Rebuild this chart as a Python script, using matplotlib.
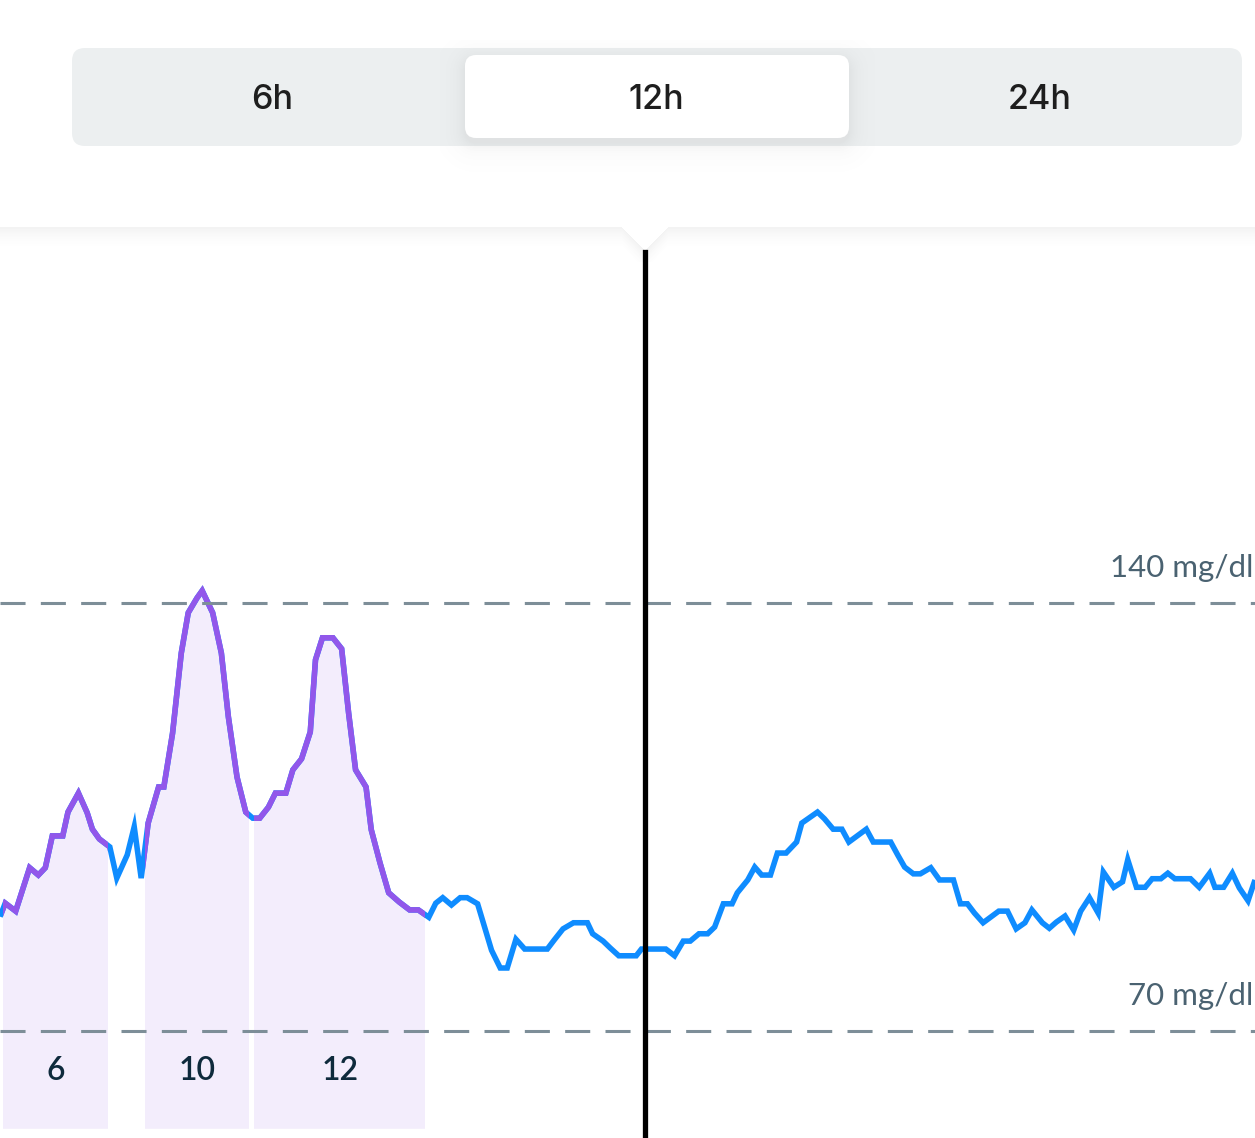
import matplotlib
matplotlib.use("Agg")
import matplotlib.pyplot as plt
from matplotlib.patches import FancyBboxPatch, Rectangle
import matplotlib.transforms as mtransforms
import numpy as np

# ---------------- data ----------------
minutes = [0, 3, 9, 17, 22, 26, 30, 36, 39, 45,
           50, 53, 57, 63, 67, 73, 77, 81, 85, 91,
           94, 99, 104, 108, 113, 116, 122, 127, 131, 136,
           141, 145, 149, 154, 158, 164, 168, 173, 178, 181,
           185, 191, 196, 200, 204, 210, 213, 218, 223, 229,
           235, 240, 246, 250, 254, 259, 264, 268, 274, 278,
           282, 287, 291, 296, 301, 314, 318, 323, 329, 337,
           340, 346, 350, 355, 365, 368, 382, 387, 392, 396,
           401, 406, 410, 415, 420, 423, 429, 433, 437, 442,
           446, 451, 457, 460, 464, 469, 473, 478, 483, 487,
           497, 501, 511, 515, 519, 524, 528, 534, 539, 547,
           551, 555, 559, 564, 573, 578, 583, 588, 592, 598,
           602, 606, 611, 616, 620, 625, 630, 633, 639, 644,
           647, 652, 657, 661, 666, 670, 674, 683, 688, 694,
           697, 702, 707, 711, 716, 720]

glucose = [88.7, 90.9, 89.6, 96.7, 95.5, 96.7, 101.9, 101.9, 105.8, 108.9,
           105.7, 103.0, 101.4, 100.1, 95.0, 98.8, 103.4, 95.0, 104.0, 109.9,
           109.9, 118.7, 131.8, 138.4, 140.8, 142.0, 138.4, 131.8, 121.4, 111.5,
           105.8, 104.8, 104.8, 106.6, 108.9, 108.9, 112.7, 114.5, 118.9, 130.7,
           134.3, 134.3, 132.5, 122.0, 112.7, 109.9, 102.9, 97.5, 92.6, 91.1,
           89.8, 89.8, 88.6, 90.9, 91.8, 90.6, 91.8, 91.8, 90.8, 87.0,
           83.2, 80.3, 80.3, 85.0, 83.4, 83.4, 84.9, 86.7, 87.7, 87.7,
           85.9, 84.7, 83.6, 82.3, 82.3, 83.4, 83.4, 82.3, 84.7, 84.7,
           85.9, 85.9, 87.0, 90.8, 90.8, 92.6, 94.7, 96.8, 95.5, 95.5,
           99.1, 99.1, 100.9, 104.0, 104.8, 105.8, 104.7, 103.0, 103.0, 100.9,
           103.0, 100.9, 100.9, 98.8, 96.8, 95.7, 95.7, 96.7, 94.7, 94.7,
           90.8, 90.8, 89.3, 87.7, 89.6, 89.6, 86.7, 87.7, 89.8, 87.7,
           86.8, 87.8, 88.8, 86.5, 89.6, 91.8, 89.3, 96.0, 93.5, 94.4,
           98.0, 93.5, 93.5, 94.9, 94.9, 95.8, 94.9, 94.9, 93.5, 95.8,
           93.5, 93.5, 95.8, 93.4, 91.3, 94.7]

meal_start = [2, 83, 146]
meal_end = [62, 143, 244]
meal_labels = ["6", "10", "12"]

range_values = [140, 70]
range_labels = ["140 mg/dl", "70 mg/dl"]

cursor_minute = 370

period_labels = ["6h", "12h", "24h"]
selected_period = "12h"

# ---------------- styles ----------------
W, H = 1255, 1138
BLUE = "#0F8CFF"
PURPLE = "#9257EA"
FILL = "#F3EDFC"
DASH = "#7D8E98"
RANGE_TXT = "#4A6271"
MEAL_TXT = "#0E2A3C"
FLOOR = 54.0
LW = 4.0

fig = plt.figure(figsize=(W / 100, H / 100), dpi=100)
fig.patch.set_facecolor("white")

# UI layer (pixel coordinates)
ui = fig.add_axes([0, 0, 1, 1], zorder=0)
ui.set_xlim(0, W)
ui.set_ylim(H, 0)
ui.axis("off")

# chart layer
ax = fig.add_axes([0, 0, 1, 1], zorder=1)
ax.patch.set_alpha(0)
ax.set_xlim(0, 720)
ax.set_ylim(52.5, 238.6)
ax.axis("off")


def sd_roundrect(X, Y, x0, y0, x1, y1, r):
    cx, cy = (x0 + x1) / 2, (y0 + y1) / 2
    hw, hh = (x1 - x0) / 2, (y1 - y0) / 2
    qx = np.abs(X - cx) - (hw - r)
    qy = np.abs(Y - cy) - (hh - r)
    outside = np.hypot(np.maximum(qx, 0), np.maximum(qy, 0))
    inside = np.minimum(np.maximum(qx, qy), 0)
    return outside + inside - r


# ---- segmented control ----
ui.add_patch(FancyBboxPatch((72, 48), 1170, 98,
                            boxstyle="round,pad=0,rounding_size=13",
                            fc="#ECEFF0", ec="none", zorder=1))

# shadow of selected pill
sx0, sy0, sx1, sy1 = 440, 40, 875, 190
gx, gy = np.meshgrid(np.arange(sx0, sx1) + 0.5, np.arange(sy0, sy1) + 0.5)
d = sd_roundrect(gx, gy, 465, 60, 849, 143, 11)
alpha = 0.10 * np.exp(-np.maximum(d, 0) / 9.0)
alpha[d < 0] = 0.10
img = np.zeros(gx.shape + (4,))
img[..., 0:3] = 0.45
img[..., 3] = alpha
ui.imshow(img, extent=(sx0, sx1, sy1, sy0), zorder=2, interpolation="bilinear")

ui.add_patch(FancyBboxPatch((465, 55), 384, 83,
                            boxstyle="round,pad=0,rounding_size=11",
                            fc="white", ec="none", zorder=3))

for i, lab in enumerate(period_labels):
    cx = 272 + i * 384
    ui.text(cx, 100, lab, ha="center", va="center", fontsize=24.5,
            family="Inter", fontweight="medium", color="#1E1E1E", zorder=4)

# ---- header shadow with pointer notch ----
hy0, hy1 = 222, 262
gx, gy = np.meshgrid(np.arange(0, W) + 0.5, np.arange(hy0, hy1) + 0.5)
notch_c, notch_hw, notch_h, edge = 645, 23, 24, 227
yb = np.where(np.abs(gx - notch_c) < notch_hw,
              edge + (notch_hw - np.abs(gx - notch_c)) * notch_h / notch_hw,
              edge)
dd = gy - yb
a = np.where(dd >= 0, 0.075 * np.clip(1 - dd / 22.0, 0, 1) ** 1.6, 0)
img = np.zeros(gx.shape + (4,))
img[..., 0:3] = 0.35
img[..., 3] = a
ui.imshow(img, extent=(0, W, hy1, hy0), zorder=2, interpolation="bilinear")

# ---- meal fills + line ----
for s, e in zip(meal_start, meal_end):
    clip = Rectangle((s, FLOOR), e - s, 200, transform=ax.transData)
    coll = ax.fill_between(minutes, glucose, FLOOR, color=FILL, lw=0, zorder=1)
    coll.set_clip_path(clip)

ax.plot(minutes, glucose, color=BLUE, lw=LW, solid_joinstyle="miter",
        solid_capstyle="butt", zorder=3)
for s, e in zip(meal_start, meal_end):
    clip = Rectangle((s, 0), e - s, 400, transform=ax.transData)
    ln, = ax.plot(minutes, glucose, color=PURPLE, lw=LW,
                  solid_joinstyle="miter", zorder=4)
    ln.set_clip_path(clip)

blend = mtransforms.blended_transform_factory(ax.transData, ax.transAxes)
for s, e, lab in zip(meal_start, meal_end, meal_labels):
    ax.text((s + e) / 2, 1 - 1071 / H, lab, transform=blend, ha="center",
            va="center", fontsize=23, family="Lato", fontweight="semibold",
            color=MEAL_TXT, zorder=6)

# ---- target range lines ----
blend2 = mtransforms.blended_transform_factory(ax.transAxes, ax.transData)
for v, lab in zip(range_values, range_labels):
    ax.axhline(v, color=DASH, lw=2.2, dashes=(8.2, 5.0), zorder=5)
    ax.annotate(lab, xy=(1253 / W, v), xycoords=blend2,
                xytext=(0, 26), textcoords="offset pixels",
                ha="right", va="baseline", fontsize=22.5, family="Lato",
                color=RANGE_TXT, annotation_clip=False, zorder=6)

# ---- cursor ----
ax.axvline(cursor_minute, ymin=0, ymax=1 - 252 / H, color="black", lw=3.8,
           zorder=7)

fig.savefig("out.png", dpi=100, facecolor="white")
